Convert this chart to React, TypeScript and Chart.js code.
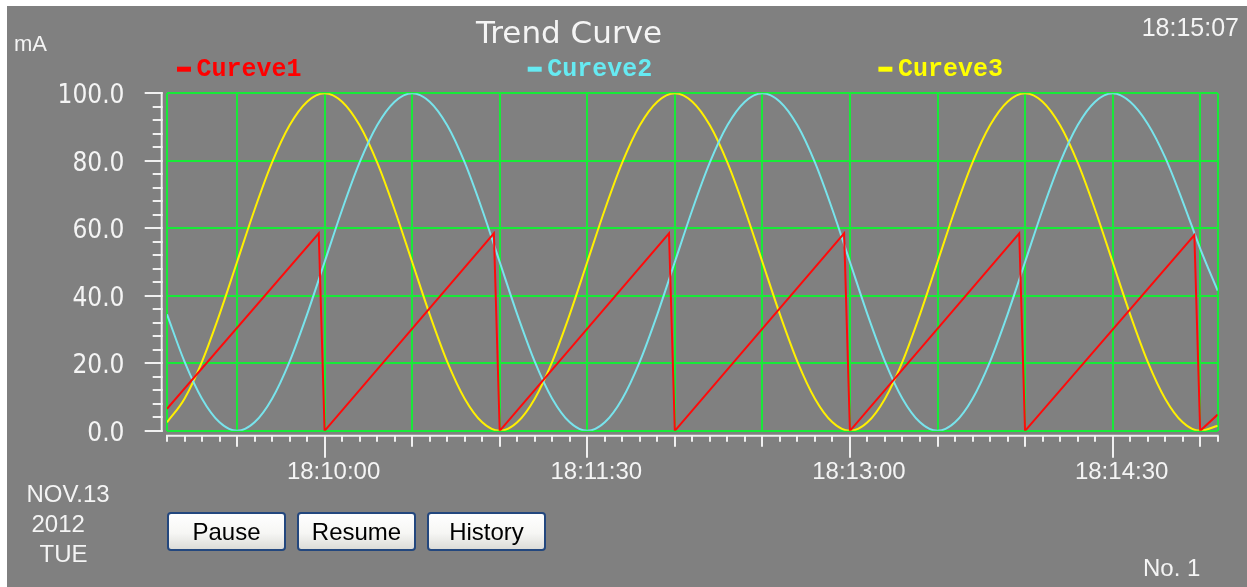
import { useEffect, useRef } from 'react';
import { Chart, registerables } from 'chart.js';

Chart.register(...registerables);

// ---- texts ----
const TITLE = 'Trend Curve';
const UNIT = 'mA';
const CLOCK = '18:15:07';
const DATE_LINES = ['NOV.13', '2012', 'TUE'];
const PANEL_NO = 'No. 1';
const BUTTONS = ['Pause', 'Resume', 'History'];

// ---- series ----
const SERIES_NAMES = ['Cureve1', 'Cureve2', 'Cureve3'];
const SERIES_COLORS = ['#ff0a0a', '#78e4ec', '#fff000'];
const LEGEND_COLORS = ['#ff0000', '#66eaf2', '#ffff00'];

// time axis: seconds after 18:00:00
const X_MIN = 546; // 18:09:06
const X_MAX = 906; // 18:15:06
const X_LABEL_TIMES = [600, 690, 780, 870];
const X_LABELS = ['18:10:00', '18:11:30', '18:13:00', '18:14:30'];

const SAMPLE_TIMES = [
  546, 552, 558, 564, 570, 576, 582, 588, 594, 600,
  606, 612, 618, 624, 630, 636, 642, 648, 654, 660,
  666, 672, 678, 684, 690, 696, 702, 708, 714, 720,
  726, 732, 738, 744, 750, 756, 762, 768, 774, 780,
  786, 792, 798, 804, 810, 816, 822, 828, 834, 840,
  846, 852, 858, 864, 870, 876, 882, 888, 894, 900,
  906,
];

const CUREVE1_TIMES = [546, 598, 600, 658, 660, 718, 720, 778, 780, 838, 840, 898, 900, 906];
const CUREVE1 = [6.5, 58.5, 0, 58.5, 0, 58.5, 0, 58.5, 0, 58.5, 0, 58, 0, 4.8];

const CUREVE2 = [
  34.5, 20.5, 9.5, 2.5, 0, 2.5, 9.5, 20.5, 34.5, 50,
  65.5, 79.5, 90.5, 97.5, 100, 97.5, 90.5, 79.5, 65.5, 50,
  34.5, 20.5, 9.5, 2.5, 0, 2.5, 9.5, 20.5, 34.5, 50,
  65.5, 79.5, 90.5, 97.5, 100, 97.5, 90.5, 79.5, 65.5, 50,
  34.5, 20.5, 9.5, 2.5, 0, 2.5, 9.5, 20.5, 34.5, 50,
  65.5, 79.5, 90.5, 97.5, 100, 97.5, 91, 81, 68, 54,
  41.5,
];

const CUREVE3 = [
  2.5, 9.5, 20.5, 34.5, 50, 65.5, 79.5, 90.5, 97.5, 100,
  97.5, 90.5, 79.5, 65.5, 50, 34.5, 20.5, 9.5, 2.5, 0,
  2.5, 9.5, 20.5, 34.5, 50, 65.5, 79.5, 90.5, 97.5, 100,
  97.5, 90.5, 79.5, 65.5, 50, 34.5, 20.5, 9.5, 2.5, 0,
  2.5, 9.5, 20.5, 34.5, 50, 65.5, 79.5, 90.5, 97.5, 100,
  97.5, 90.5, 79.5, 65.5, 50, 34.5, 20.5, 9.5, 2.5, 0,
  1.5,
];

// ---- style ----
const W = 1240;
const H = 581;
const BG = '#808080';
const GRID = '#18ea38';
const AXIS = '#f0f0f0';
const TEXT = '#f4f4f4';

function pickYFont() {
  try {
    const c = document.createElement('canvas').getContext('2d');
    if (!c) throw new Error('x');
    c.font = '32px "Liberation Sans Narrow", monospace';
    const a = c.measureText('100.0').width;
    c.font = '32px monospace';
    const b = c.measureText('100.0').width;
    if (Math.abs(a - b) > 0.5) return { family: '"Liberation Sans Narrow"', size: 32 };
  } catch (e) {
    /* ignore */
  }
  return { family: '"DejaVu Sans Condensed", "Liberation Sans", sans-serif', size: 26 };
}

const decor = {
  id: 'decor',
  afterDraw(chart: any) {
    const { ctx, chartArea: ca, scales } = chart;
    const xs = scales.x;
    const ys = scales.y;
    ctx.save();
    ctx.strokeStyle = AXIS;
    ctx.lineWidth = 2;
    const seg = (x1: number, y1: number, x2: number, y2: number) => {
      ctx.beginPath();
      ctx.moveTo(x1, y1);
      ctx.lineTo(x2, y2);
      ctx.stroke();
    };
    // y axis line + ticks
    const ax = ca.left - 5.3;
    const yTop = ys.getPixelForValue(100);
    const yBot = ys.getPixelForValue(0);
    seg(ax, yTop - 1, ax, yBot + 1);
    for (let v = 0; v <= 100; v += 4) {
      const py = Math.round(ys.getPixelForValue(v));
      const len = v % 20 === 0 ? 17 : 9;
      seg(ax - len, py, ax + 1, py);
    }
    // x axis line + ticks
    const ay = ca.bottom + 5;
    seg(ca.left - 1, ay, ca.right + 1, ay);
    xs.ticks.forEach((t: any) => {
      const v = t.value;
      const px = Math.round(xs.getPixelForValue(v));
      const len = X_LABEL_TIMES.includes(v) ? 22 : (v % 30 === 0 ? 11 : 6);
      seg(px, ay, px, ay + len);
    });

    // legend
    chart.data.datasets.forEach((ds: any, i: number) => {
      const lx = 170 + i * 350.7;
      ctx.fillStyle = LEGEND_COLORS[i];
      ctx.fillRect(lx, 60.7, 14, 5);
      ctx.font = 'bold 25px "Liberation Mono", "DejaVu Sans Mono", monospace';
      ctx.textAlign = 'left';
      ctx.textBaseline = 'alphabetic';
      ctx.fillText(ds.label, lx + 19.5, 70);
    });

    // texts
    ctx.fillStyle = TEXT;
    ctx.textBaseline = 'alphabetic';
    ctx.font = '31px "DejaVu Sans", sans-serif';
    ctx.textAlign = 'center';
    ctx.fillText(TITLE, 562, 36.7);

    ctx.textAlign = 'left';
    ctx.font = '22px "Liberation Sans", Arial, sans-serif';
    ctx.fillText(UNIT, 7, 44.7);

    ctx.font = '25px "Liberation Sans", Arial, sans-serif';
    ctx.textAlign = 'right';
    ctx.fillText(CLOCK, 1232, 30);

    ctx.font = '24px "Liberation Sans", Arial, sans-serif';
    ctx.textAlign = 'left';
    const dx = [19.5, 24.5, 32.5];
    const dy = [495.7, 526, 556.3];
    DATE_LINES.forEach((s, i) => ctx.fillText(s, dx[i], dy[i]));
    ctx.fillText(PANEL_NO, 1136, 569.7);
    ctx.restore();
  },
};

export default function App() {
  const ref = useRef<HTMLCanvasElement | null>(null);

  useEffect(() => {
    if (!ref.current) return;
    const yFont = pickYFont();
    const chart = new Chart(ref.current, {
      type: 'line',
      data: {
        datasets: [
          {
            label: SERIES_NAMES[0],
            data: CUREVE1_TIMES.map((x, i) => ({ x, y: CUREVE1[i] })),
            borderColor: SERIES_COLORS[0],
            borderWidth: 2,
            pointRadius: 0,
            tension: 0,
          },
          {
            label: SERIES_NAMES[1],
            data: SAMPLE_TIMES.map((x, i) => ({ x, y: CUREVE2[i] })),
            borderColor: SERIES_COLORS[1],
            borderWidth: 2,
            pointRadius: 0,
            cubicInterpolationMode: 'monotone',
          },
          {
            label: SERIES_NAMES[2],
            data: SAMPLE_TIMES.map((x, i) => ({ x, y: CUREVE3[i] })),
            borderColor: SERIES_COLORS[2],
            borderWidth: 2,
            pointRadius: 0,
            cubicInterpolationMode: 'monotone',
          },
        ],
      },
      options: {
        animation: false,
        responsive: false,
        maintainAspectRatio: false,
        devicePixelRatio: 1,
        events: [],
        layout: { padding: { left: 10, top: 87.3, right: 29.3, bottom: 96.2 } },
        plugins: {
          legend: { display: false },
          title: { display: false },
          tooltip: { enabled: false },
        },
        scales: {
          x: {
            type: 'linear',
            min: X_MIN,
            max: X_MAX,
            afterFit: (s: any) => {
              s.height = 60;
            },
            border: { display: false },
            grid: {
              lineWidth: 2,
              drawTicks: false,
              color: (c: any) => {
                const v = c.tick ? c.tick.value : 0;
                return v % 30 === 0 || v === X_MIN || v === X_MAX ? GRID : 'rgba(0,0,0,0)';
              },
            },
            ticks: {
              stepSize: 6,
              maxTicksLimit: 100,
              autoSkip: false,
              maxRotation: 0,
              minRotation: 0,
              padding: 26.7,
              labelOffset: 9,
              color: TEXT,
              font: { family: '"Liberation Sans", Arial, sans-serif', size: 24 },
              callback: (v: any) => {
                const i = X_LABEL_TIMES.indexOf(Number(v));
                return i >= 0 ? X_LABELS[i] : '';
              },
            },
          },
          y: {
            min: 0,
            max: 100,
            afterFit: (s: any) => {
              s.width = 150;
            },
            border: { display: false },
            grid: { lineWidth: 2, drawTicks: false, color: GRID },
            ticks: {
              stepSize: 20,
              padding: 42.5,
              labelOffset: 3,
              color: TEXT,
              font: { family: yFont.family, size: yFont.size },
              callback: (v: any) => Number(v).toFixed(1),
            },
          },
        },
      },
      plugins: [decor],
    } as any);
    return () => chart.destroy();
  }, []);

  return (
    <div
      style={{
        position: 'absolute',
        left: 7,
        top: 6,
        width: W,
        height: H,
        background: BG,
        overflow: 'hidden',
      }}
    >
      <canvas ref={ref} width={W} height={H} style={{ display: 'block', width: W, height: H }} />
      {BUTTONS.map((b, i) => (
        <button
          key={b}
          style={{
            position: 'absolute',
            left: 160 + i * 130,
            top: 506,
            width: 119,
            height: 39,
            padding: 0,
            margin: 0,
            boxSizing: 'border-box',
            border: '2px solid #23477e',
            borderRadius: 4,
            background: 'linear-gradient(#ffffff 0%, #f6f6f4 55%, #dcdcd8 100%)',
            color: '#000',
            font: '24px "Liberation Sans", Arial, sans-serif',
            lineHeight: '35px',
          }}
        >
          {b}
        </button>
      ))}
    </div>
  );
}
